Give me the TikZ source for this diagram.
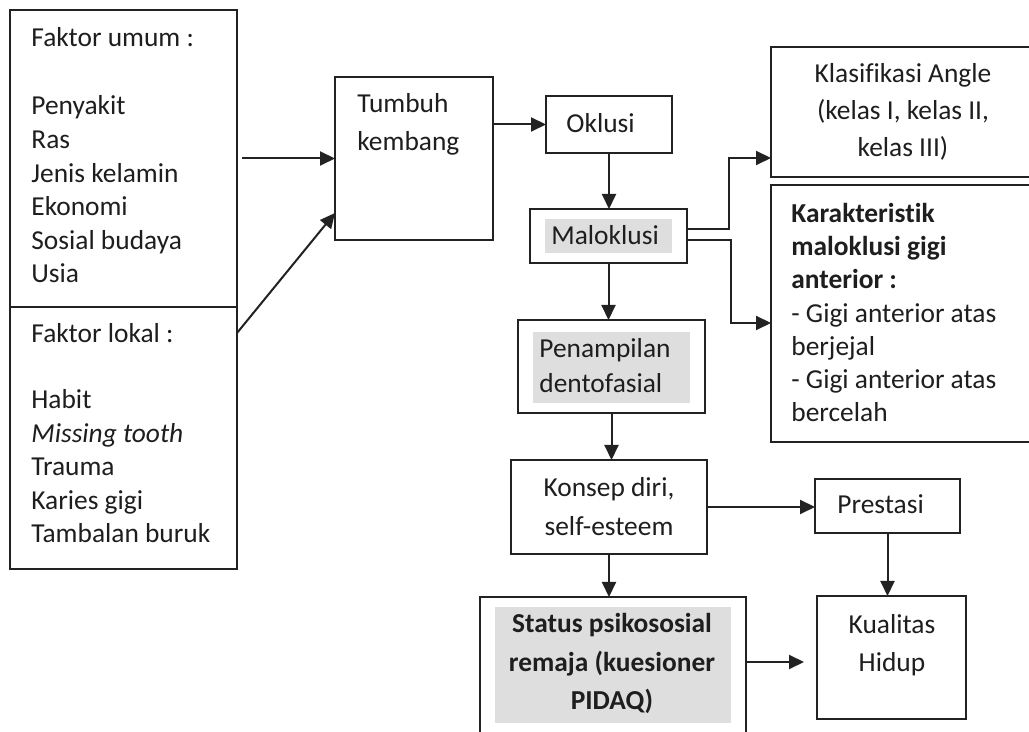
\documentclass[tikz,border=0pt]{standalone}
\usepackage{fontspec}
\setmainfont{Carlito}[Ligatures=NoCommon]
\usetikzlibrary{arrows.meta}
\definecolor{linec}{HTML}{222222}
\definecolor{textc}{HTML}{1E1E1E}
\definecolor{hlgray}{HTML}{DEDEDE}
\newcommand\fs[1]{\fontsize{13.7pt}{#1}\selectfont}

\begin{document}
\begin{tikzpicture}[
        x=0.5pt, y=-0.5pt,
        box/.style = {
            draw=linec, line width=1pt,
            inner sep=0pt, outer sep=0pt, anchor=north west},
        txt/.style = {inner sep=0pt, align=left, text=textc, font=\fs{#1}},
        txt/.default = 16.8pt,
        arr/.style = {line width=1pt, draw=linec, -{Triangle[length=7.5pt,width=7pt]}},
        hl/.style = {fill=hlgray},
]
        \useasboundingbox (0,0) rectangle (1029,732);
        \fill[white] (0,0) rectangle (1029,732);
        \clip (0,0) rectangle (1029,732);

        \node[box, minimum width=113.5pt, minimum height=148.5pt] (umum) at (10,10) {};
        \node[box, minimum width=113.5pt, minimum height=131pt] (lokal) at (10,307) {};
        \node[box, minimum width=79pt, minimum height=81.5pt] (tumbuh) at (335,77) {};
        \node[box, minimum width=63pt, minimum height=28.5pt] (oklusi) at (546,96) {};
        \node[box, minimum width=78.5pt, minimum height=27pt] (malo) at (530,209) {};
        \node[box, minimum width=93.5pt, minimum height=46.5pt] (tampil) at (518,320) {};
        \node[box, minimum width=98pt, minimum height=47pt] (konsep) at (511,460) {};
        \node[box, minimum width=72.5pt, minimum height=27pt] (prestasi) at (815,479) {};
        \node[box, minimum width=74.5pt, minimum height=61.5pt] (kualitas) at (817,596) {};
        \node[box, minimum width=133pt, minimum height=91.5pt] (status) at (480,597) {};
        \node[box, minimum width=139.5pt, minimum height=65pt] (angle) at (771,47) {};
        \node[box, minimum width=139.5pt, minimum height=128.5pt] (karak) at (771,185) {};

        \fill[hl] (545,219) rectangle (672,253);
        \fill[hl] (533,332) rectangle (690,403);
        \fill[hl] (495,607) rectangle (731,723);

        \node[txt, anchor=base west] (umum-t) at (31,283)
            {Faktor umum :\\[17.5pt]Penyakit\\Ras\\Jenis kelamin\\Ekonomi\\Sosial budaya\\Usia};
        \node[txt, anchor=base west] (lokal-t) at (31,543)
            {Faktor lokal :\\[16.2pt]Habit\\\textit{Missing tooth}\\Trauma\\Karies gigi\\Tambalan buruk};
        \node[txt=19pt, anchor=base west] (tumbuh-t) at (357,151) {Tumbuh\\kembang};
        \node[txt, anchor=base west] (oklusi-t) at (566,133) {Oklusi};
        \node[txt, anchor=base west] (malo-t) at (551,245) {Maloklusi};
        \node[txt=17.5pt, anchor=base west] (tampil-t) at (539,393) {Penampilan\\dentofasial};
        \node[txt=19.5pt, anchor=base, align=center] (konsep-t) at (609,536) {Konsep diri,\\self-esteem};
        \node[txt, anchor=base west] (prestasi-t) at (837,514) {Prestasi};
        \node[txt=19pt, anchor=base, align=center] (kualitas-t) at (892,671) {Kualitas\\Hidup};
        \node[txt=19.5pt, anchor=base, align=center, font=\fs{19.5pt}\bfseries] (status-t) at (612,710)
            {Status psikososial\\remaja (kuesioner\\PIDAQ)};
        \node[txt=18.5pt, anchor=base, align=center] (angle-t) at (903,157)
            {Klasifikasi Angle\\(kelas I, kelas II,\\kelas III)};
        \node[txt=16.65pt, anchor=base west] (karak-t) at (791,422)
            {\textbf{Karakteristik}\\\textbf{maloklusi gigi}\\\textbf{anterior :}\\- Gigi anterior atas\\berjejal\\- Gigi anterior atas\\bercelah};

        \draw [arr, shorten <=2.5pt] (umum.east) -- (umum.east -| tumbuh.west);
        \draw [arr] ([yshift=-13pt]lokal.north east) -- ([yshift=13.5pt]tumbuh.south west);
        \draw [arr] (tumbuh.east |- oklusi.west) -- (oklusi.west);
        \draw [arr] (oklusi.south) -- (oklusi.south |- malo.north);
        \draw [arr] (malo.south) -- (malo.south |- tampil.north);
        \draw [arr] ([yshift=3.5pt]malo.east) -- ++(21pt,0) |- ([yshift=9.5pt]angle.south west);
        \draw [arr] ([yshift=-2pt]malo.east) -- ++(22pt,0) |- ([yshift=-69pt]karak.north west);
        \draw [arr] (tampil.south) -- (tampil.south |- konsep.north);
        \draw [arr] (konsep.east) -- (konsep.east -| prestasi.west);
        \draw [arr] (konsep.south) -- (konsep.south |- status.north);
        \draw [arr] (prestasi.south) -- (prestasi.south |- kualitas.north);
        \coordinate (sq) at ([yshift=-32.5pt]status.north east);
        \draw [arr, shorten >=6.5pt] (sq) -- (sq -| kualitas.west);
\end{tikzpicture}
\end{document}
